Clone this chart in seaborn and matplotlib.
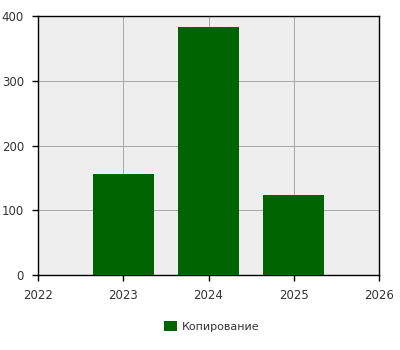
import matplotlib
matplotlib.use("Agg")
import matplotlib.pyplot as plt
import seaborn as sns
import pandas as pd
from matplotlib.patches import Patch

years = [2023, 2024, 2025]
values = [156, 383, 123]
series_name = "Копирование"
x_ticks = [2022, 2023, 2024, 2025, 2026]
y_ticks = [0, 100, 200, 300, 400]

df = pd.DataFrame({"year": years, "value": values})

sns.set_theme(style="white")
plt.rcParams["font.family"] = ["DejaVu Sans"]

fig = plt.figure(figsize=(4, 3.5), dpi=100)
ax = fig.add_axes([0.095, 0.214, 0.8525, 0.74])
ax.set_facecolor("#eeeeee")

sns.barplot(data=df, x="year", y="value", native_scale=True, width=0.72,
            color="#006400", saturation=1, linewidth=0, edgecolor="none",
            ax=ax, zorder=3)

ax.set_xlim(2022, 2026)
ax.set_ylim(0, 400)
ax.set_xticks(x_ticks)
ax.set_xticklabels([str(t) for t in x_ticks])
ax.set_yticks(y_ticks)
ax.grid(True, color="#a8a8a8", linewidth=0.7, zorder=0)
ax.set_axisbelow(True)
ax.set_xlabel("")
ax.set_ylabel("")
for s in ax.spines.values():
    s.set_visible(True)
    s.set_color("black")
    s.set_linewidth(1)
ax.tick_params(axis="both", direction="out", length=4, width=1, color="black",
               labelsize=8.5, labelcolor="#333333", bottom=True, left=True, pad=6)

fig.legend(handles=[Patch(facecolor="#006400", edgecolor="none", label=series_name)],
           loc="center", bbox_to_anchor=(0.53, 0.068), frameon=False,
           fontsize=8, handlelength=1.1, handleheight=1.1, handletextpad=0.5,
           labelcolor="#333333")

fig.savefig("out.png", dpi=100)
